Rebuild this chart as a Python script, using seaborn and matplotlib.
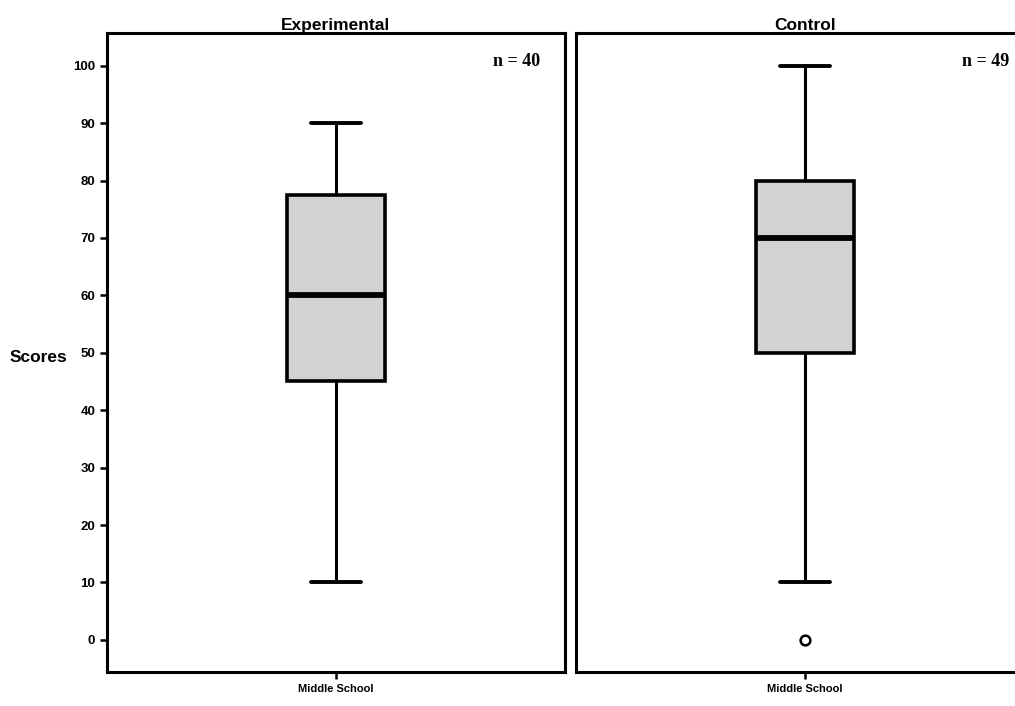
import pandas as pd
import matplotlib
matplotlib.use("Agg")
import matplotlib.pyplot as plt
import seaborn as sns

# Values (five-number summaries per group)
groups = ["Experimental", "Control"]
n_counts = [40, 49]
category = "Middle School"
low_whisker = [10, 10]
q1 = [45, 50]
median = [60, 70]
q3 = [77.5, 80]
high_whisker = [90, 100]
outliers = [[], [0]]
y_ticks = list(range(0, 101, 10))

# Five points per group reproduce the quartiles and whiskers exactly
rows = []
for i, g in enumerate(groups):
    for v in [low_whisker[i], q1[i], median[i], q3[i], high_whisker[i]]:
        rows.append({"group": g, "school": category, "score": v})
df = pd.DataFrame(rows)

out_rows = []
for i, g in enumerate(groups):
    for v in outliers[i]:
        out_rows.append({"group": g, "school": category, "score": v})
df_out = pd.DataFrame(out_rows, columns=["group", "school", "score"])

sns.set_style("white")
plt.rcParams["font.family"] = ["Liberation Sans", "DejaVu Sans"]
plt.rcParams["text.color"] = "black"

fig = plt.figure(figsize=(10.15, 7.06), dpi=100)
panel_w = 458 / 1015
panel_h = 639 / 706
bottom = 34 / 706
lefts = [107 / 1015, 576 / 1015]

for i, g in enumerate(groups):
    ax = fig.add_axes([lefts[i], bottom, panel_w, panel_h])
    sub = df[df["group"] == g]
    sns.boxplot(data=sub, x="school", y="score", ax=ax, width=0.215,
                color="#d2d2d2", whis=(0, 100), fliersize=0,
                boxprops=dict(edgecolor="black", linewidth=2.6),
                whiskerprops=dict(color="black", linewidth=2.2),
                capprops=dict(color="black", linewidth=2.8),
                medianprops=dict(color="black", linewidth=4.2))
    sub_out = df_out[df_out["group"] == g]
    if len(sub_out):
        sns.stripplot(data=sub_out, x="school", y="score", ax=ax, jitter=False,
                      marker="o", size=7, color="white", edgecolor="black",
                      linewidth=1.8)
    ax.set_xlim(-0.5, 0.5)
    ax.set_ylim(-5.6, 105.7)
    ax.set_yticks(y_ticks)
    ax.set_xlabel("")
    for s in ax.spines.values():
        s.set_visible(True)
        s.set_color("black")
        s.set_linewidth(2.2)
    ax.tick_params(axis="both", direction="out", length=5, width=1.8,
                   colors="black", left=True, bottom=True)
    for lab in ax.get_xticklabels():
        lab.set_fontsize(8)
        lab.set_fontweight("bold")
    ax.set_title(g, fontsize=12.5, fontweight="heavy", pad=2, color="black")
    ax.text(0.945, 0.955, f"n = {n_counts[i]}", transform=ax.transAxes,
            ha="right", va="center", fontsize=13, fontweight="bold",
            color="black", family=["Liberation Serif", "DejaVu Serif"])
    ax.set_ylabel("")
    if i == 0:
        for lab in ax.get_yticklabels():
            lab.set_fontsize(9.5)
            lab.set_fontweight("bold")
    else:
        ax.tick_params(axis="y", left=False, labelleft=False)

fig.text(38 / 1015, 1 - 358 / 706, "Scores", ha="center", va="center",
         fontsize=12.5, fontweight="bold", color="black")

fig.savefig("out.png", dpi=100)
